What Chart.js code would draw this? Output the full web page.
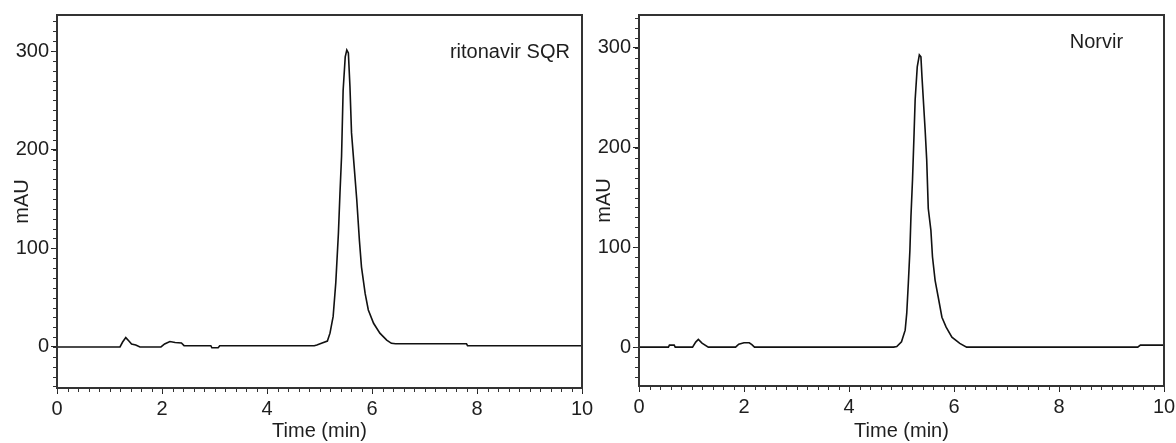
<!DOCTYPE html>
<html>
<head>
<meta charset="utf-8">
<script src="https://cdn.jsdelivr.net/npm/chart.js@4.4.1/dist/chart.umd.min.js"></script>
<style>
  html, body { margin: 0; padding: 0; background: #fff; }
  body { width: 1176px; height: 443px; position: relative; overflow: hidden; }
  .panel { position: absolute; top: 0; height: 443px; }
  #left { left: 0; width: 600px; }
  #right { left: 586px; width: 610px; }
</style>
</head>
<body>
<div class="panel" id="left"><canvas id="chartA"></canvas></div>
<div class="panel" id="right"><canvas id="chartB"></canvas></div>
<script>
// ritonavir SQR chromatogram (time in min, signal in mAU)
const timeA = [0, 1.2, 1.25, 1.31, 1.37, 1.42, 1.5, 1.58, 1.98, 2.05, 2.15, 2.25, 2.37, 2.42,
   2.93, 2.95, 3.07, 3.1, 4.9, 4.95, 5.05, 5.15, 5.2, 5.26, 5.31, 5.36, 5.39, 5.42, 5.45,
   5.49, 5.52, 5.55, 5.58, 5.61, 5.66, 5.71, 5.76, 5.8, 5.87, 5.93, 6.03, 6.15, 6.28, 6.37,
   6.45, 7.8, 7.82, 10]
const valA = [0, 0, 5, 9.5, 6, 3, 2, 0, 0, 3, 5.5, 4.5, 4, 1.3,
   1.3, -0.8, -0.8, 1.3, 1.3, 2, 4, 6, 14, 31, 65, 115, 156, 193, 260,
   294, 301, 298, 264, 217, 183, 149, 108, 81, 54, 37.5, 24, 14, 7, 3.7,
   3.2, 3.2, 1.3, 1.3]

// Norvir chromatogram
const timeB = [0, 0.56, 0.58, 0.67, 0.69, 1.02, 1.08, 1.13, 1.2, 1.32, 1.84, 1.9, 2.0, 2.1,
   2.15, 2.2, 4.85, 4.91, 5.0, 5.07, 5.1, 5.13, 5.16, 5.18, 5.21, 5.24, 5.26, 5.3, 5.34,
   5.37, 5.39, 5.45, 5.48, 5.51, 5.56, 5.59, 5.64, 5.7, 5.77, 5.85, 5.96, 6.11, 6.24,
   9.5, 9.55, 10]
const valB = [0, 0, 2, 2, 0, 0, 5, 7.7, 4, 0, 0, 3, 4.3, 4.3,
   2.5, 0, 0, 0.5, 5.3, 17, 34, 64, 97, 131, 168, 215, 248, 281, 293,
   291, 271, 218, 188, 139, 117, 90.6, 67, 50, 30, 20, 10, 3.7, 0,
   0, 2, 2]

const xTicks = [0, 2, 4, 6, 8, 10]
const yTicks = [0, 100, 200, 300]

Chart.defaults.font.family = "'Liberation Sans', Arial, sans-serif"
Chart.defaults.font.size = 20
Chart.defaults.color = "#1e1e1e"

const frame = {
   id: "frame",
   afterDatasetsDraw(chart) {
      const { ctx, chartArea: a, scales: { x, y } } = chart
      ctx.save()
      ctx.strokeStyle = "#333"
      ctx.lineWidth = 2
      ctx.strokeRect(a.left, a.top, a.right - a.left, a.bottom - a.top)
      // minor ticks
      ctx.lineWidth = 1
      ctx.beginPath()
      for (let i = 0; i <= 50; i++) {
         const px = Math.round(x.getPixelForValue(i * 0.2)) + 0.5
         ctx.moveTo(px, a.bottom)
         ctx.lineTo(px, a.bottom + 4)
      }
      for (let v = Math.ceil(y.min / 10) * 10; v <= y.max; v += 10) {
         const py = Math.round(y.getPixelForValue(v)) + 0.5
         ctx.moveTo(a.left, py)
         ctx.lineTo(a.left - 4, py)
      }
      ctx.stroke()
      ctx.restore()
   }
}

const note = {
   id: "note",
   afterDraw(chart, args, opts) {
      const { ctx, scales: { x, y } } = chart
      ctx.save()
      ctx.font = "20px 'Liberation Sans', Arial, sans-serif"
      ctx.fillStyle = "#1e1e1e"
      ctx.textAlign = "right"
      ctx.textBaseline = "middle"
      ctx.fillText(opts.text, x.getPixelForValue(opts.x), y.getPixelForValue(opts.y))
      ctx.restore()
   }
}

function makeChart(id, times, values, cfg) {
   new Chart(document.getElementById(id), {
      type: "line",
      data: {
         datasets: [{
            data: times.map((t, i) => ({ x: t, y: values[i] })),
            borderColor: "#111",
            borderWidth: 1.6,
            pointRadius: 0,
            tension: 0,
            fill: false
         }]
      },
      options: {
         responsive: true,
         maintainAspectRatio: false,
         animation: false,
         layout: { padding: { top: 15, right: cfg.padRight, bottom: 0, left: 0 } },
         plugins: {
            legend: { display: false },
            tooltip: { enabled: false },
            note: { text: cfg.text, x: cfg.noteX, y: cfg.noteY }
         },
         scales: {
            x: {
               type: "linear",
               min: 0,
               max: 10,
               afterBuildTicks: s => { s.ticks = xTicks.map(v => ({ value: v })) },
               ticks: { padding: 3, maxRotation: 0, autoSkip: false },
               grid: { drawOnChartArea: false, tickLength: 6, color: "#222" },
               border: { display: false },
               title: { display: true, text: "Time (min)", padding: { top: 0, bottom: 0 } },
               afterFit: s => { s.height = cfg.xHeight }
            },
            y: {
               min: cfg.yMin,
               max: cfg.yMax,
               afterBuildTicks: s => { s.ticks = yTicks.map(v => ({ value: v })) },
               ticks: { padding: 2 },
               grid: { drawOnChartArea: false, tickLength: 6, color: "#222" },
               border: { display: false },
               title: { display: true, text: "mAU", padding: { top: cfg.titlePad, bottom: 0 } },
               afterFit: s => { s.width = cfg.yWidth }
            }
         }
      },
      plugins: [frame, note]
   })
}

makeChart("chartA", timeA, valA, {
   yMin: -41.6, yMax: 336.5, yWidth: 57, xHeight: 55, padRight: 18, titlePad: 10,
   text: "ritonavir SQR", noteX: 9.77, noteY: 299
})
makeChart("chartB", timeB, valB, {
   yMin: -39, yMax: 333, yWidth: 53, xHeight: 57, padRight: 32, titlePad: 6,
   text: "Norvir", noteX: 9.22, noteY: 305
})
</script>
</body>
</html>
